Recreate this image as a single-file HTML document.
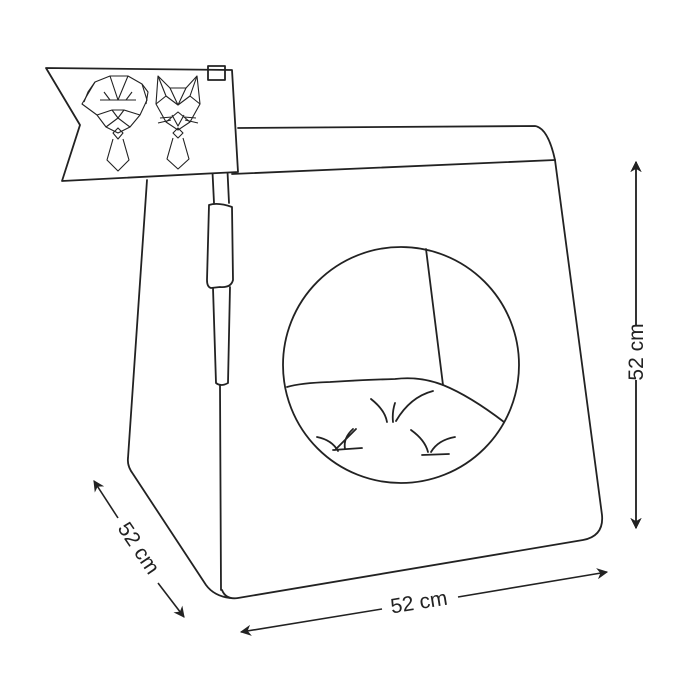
<!DOCTYPE html>
<html><head><style>html,body{margin:0;padding:0;background:#fff;}svg{display:block}</style></head>
<body>
<svg width="700" height="700" viewBox="0 0 700 700" xmlns="http://www.w3.org/2000/svg">
<defs><marker id="ah" viewBox="0 0 10 10" refX="9" refY="5" markerWidth="7" markerHeight="7" orient="auto-start-reverse"><path d="M0,0 L10,5 L0,10 L3,5 Z" fill="#222"/></marker></defs>
<g fill="none" stroke="#222" stroke-width="1.8" stroke-linejoin="round" stroke-linecap="round">
<!-- back top -->
<path d="M238,128 L535,126 Q548,128 555,160"/>
<!-- front top -->
<path d="M232,174 L555,160"/>
<!-- right edge -->
<path d="M555,160 L602,515 Q604,536 583,540 L238,598 Q226,600 222,590"/>
<!-- left panel -->
<path d="M147,180 L128,458 Q127,466 133,474 L206,585 Q214,596 230,598"/>
<!-- pole lower line -->
<path d="M220,385 L221,590"/>
<!-- pole -->
<path d="M212,162 L227,161 L229,203 M214,203 L212,162"/>
<path d="M209,205 Q218,202 232,207 L233,280 Q231,288 220,287 L211,288 Q207,287 207,280 Z"/>
<path d="M213,288 L216,383 Q221,387 228,383 L230,287"/>
<!-- flag -->
<path d="M46,68 L232,70 L238,172 L62,181 L80,125 Z" fill="#fff"/>
<rect x="208" y="66" width="17" height="14"/>
<!-- circle -->
<circle cx="401" cy="365" r="118"/>
<path d="M426,249 L443,385"/>
<path d="M287,387 Q300,383 330,382 Q360,380 395,379 Q420,376 443,385 Q470,396 504,422"/>
<path d="M317,437 Q332,440 338,451 M335,450 Q345,440 356,429 M333,450 L362,448 M353,429 Q343,438 345,449"/>
<path d="M371,399 Q385,410 387,422 M395,403 Q392,412 393,422 M396,421 Q410,397 433,391"/>
<path d="M411,430 Q425,440 428,452 M431,452 Q438,440 455,437 M422,455 L449,454"/>
</g>
<!-- animal heads (simplified) -->
<g fill="none" stroke="#222" stroke-width="1.1" stroke-linejoin="round">
<path d="M95,82 L110,76 L128,76 L142,84 L147,100 L140,115 L130,127 L118,133 L106,127 L97,115 L82,104 Z"/>
<path d="M95,82 L88,92 L84,102 M142,84 L148,92 L146,104 M110,76 L118,100 L128,76 M100,100 L118,100 L136,100 M106,127 L118,118 L130,127 M112,110 L124,110 L118,118 Z M97,115 L112,110 M140,115 L124,110 M104,92 L110,100 M132,92 L126,100"/>
<path d="M113,133 L118,128 L123,133 L118,139 Z M113,139 L107,160 L118,171 L129,160 L123,139"/>
<path d="M158,76 L170,88 L186,88 L197,76 L200,104 L190,122 L178,130 L166,122 L156,104 Z"/>
<path d="M158,76 L166,96 L178,105 L190,96 L197,76 M170,88 L178,105 L186,88 M166,96 L156,104 M190,96 L200,104 M166,122 L178,112 L190,122 M172,115 L178,126 L184,115"/>
<path d="M160,118 L172,117 M158,123 L171,120 M196,118 L184,117 M198,123 L185,120"/>
<path d="M173,133 L178,128 L183,133 L178,138 Z M173,138 L167,159 L178,169 L189,159 L183,138"/>
</g>
<!-- dimension arrows -->
<g stroke="#222" stroke-width="1.6" fill="none">
<path d="M636,162 L636,325 M636,380 L636,528" marker-start="url(#ah)" marker-end="url(#ah)"/>
<path d="M636,162 L636,325" marker-start="url(#ah)"/>
<path d="M636,380 L636,528" marker-end="url(#ah)"/>
<path d="M241,632 L382,609" marker-start="url(#ah)"/>
<path d="M458,597 L607,572" marker-end="url(#ah)"/>
<path d="M94,481 L118,518" marker-start="url(#ah)"/>
<path d="M158,583 L184,617" marker-end="url(#ah)"/>
</g>
<g font-family="Liberation Sans, sans-serif" font-size="21" fill="#222">
<text x="0" y="0" text-anchor="middle" transform="translate(643,352) rotate(-90)">52 cm</text>
<text x="0" y="0" text-anchor="middle" transform="translate(420,609) rotate(-9)">52 cm</text>
<text x="0" y="0" text-anchor="middle" transform="translate(133,552) rotate(56)">52 cm</text>
</g>
</svg>
</body></html>
